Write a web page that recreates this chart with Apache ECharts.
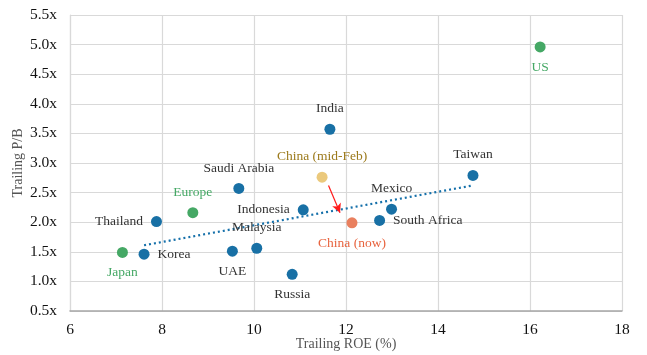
<!DOCTYPE html>
<html><head><meta charset="utf-8">
<script src="https://cdn.jsdelivr.net/npm/echarts@6/dist/echarts.min.js"></script>
<style>html,body{margin:0;padding:0;background:#fff}#c{width:647px;height:355px}</style>
</head><body><div id="c"></div>
<script>
// Data
const blueNames = ['India','Taiwan','Mexico','South Africa','Saudi Arabia','Thailand','Indonesia','Malaysia','Korea','UAE','Russia'];
const blueRoe   = [11.65, 14.76, 12.99, 12.73, 9.67, 7.88, 11.07, 10.06, 7.61, 9.53, 10.83];
const bluePb    = [3.57, 2.79, 2.22, 2.03, 2.57, 2.01, 2.21, 1.56, 1.46, 1.51, 1.12];

const greenNames = ['US','Europe','Japan'];
const greenRoe   = [16.22, 8.67, 7.14];
const greenPb    = [4.96, 2.16, 1.49];

const chinaFebName = ['China (mid-Feb)'];
const chinaFebRoe  = [11.48];
const chinaFebPb   = [2.76];

const chinaNowName = ['China (now)'];
const chinaNowRoe  = [12.13];
const chinaNowPb   = [1.99];

const trendRoe = [7.61, 14.75];
const trendPb  = [1.61, 2.62];

const arrowRoe = [11.62, 11.87];
const arrowPb  = [2.62, 2.16];

const xTicks = [6, 8, 10, 12, 14, 16, 18];
const yTicks = [0.5, 1.0, 1.5, 2.0, 2.5, 3.0, 3.5, 4.0, 4.5, 5.0, 5.5];

// Label placement (style, not data)
const labelPos = {
  'India':'top','Taiwan':'top','Mexico':'top','South Africa':'right','Saudi Arabia':'top',
  'Thailand':'left','Indonesia':'left','Malaysia':'top','Korea':'right','UAE':'bottom',
  'Russia':'bottom','US':'bottom','Europe':'top','Japan':'bottom',
  'China (mid-Feb)':'top','China (now)':'bottom'
};

const FONT = '"Liberation Serif", "DejaVu Serif", serif';

function pts(names, xs, ys){
  return names.map((n,i)=>({name:n, value:[xs[i], ys[i]], label:{position:labelPos[n]}}));
}

function scatter(name, names, xs, ys, color, labelColor){
  return {
    name, type:'scatter', symbolSize:11,
    itemStyle:{color, opacity:1},
    label:{show:true, formatter:'{b}', color:labelColor, fontFamily:FONT, fontSize:13.5, distance:8},
    data: pts(names, xs, ys),
    z:3
  };
}

const chart = echarts.init(document.getElementById('c'), null, {renderer:'canvas'});
chart.setOption({
  animation:false,
  backgroundColor:'#fff',
  grid:{left:70, right:25, top:15, bottom:44, containLabel:false, outerBoundsMode:'none'},
  xAxis:{
    type:'value', min:xTicks[0], max:xTicks[xTicks.length-1], interval:2,
    name:'Trailing ROE (%)', nameLocation:'middle', nameGap:26, nameMoveOverlap:false,
    nameTextStyle:{fontFamily:FONT, fontSize:14, color:'#555'},
    axisLine:{show:true, lineStyle:{color:'#a6a6a6', width:1.5}},
    axisTick:{show:false},
    axisLabel:{fontFamily:FONT, fontSize:15.5, color:'#111', margin:11},
    splitLine:{show:true, lineStyle:{color:'#d9d9d9', width:1.2}}
  },
  yAxis:{
    type:'value', min:yTicks[0], max:yTicks[yTicks.length-1], interval:0.5,
    name:'Trailing P/B', nameLocation:'middle', nameGap:45, nameMoveOverlap:false,
    nameTextStyle:{fontFamily:FONT, fontSize:14, color:'#555'},
    axisLine:{show:true, lineStyle:{color:'#d9d9d9', width:1.2}},
    axisTick:{show:false},
    axisLabel:{fontFamily:FONT, fontSize:15.5, color:'#111', margin:13,
      formatter:v=>v.toFixed(1)+'x'},
    splitLine:{show:true, lineStyle:{color:'#d9d9d9', width:1.2}}
  },
  series:[
    {
      type:'line', symbol:'none', silent:true,
      data: trendRoe.map((x,i)=>[x, trendPb[i]]),
      lineStyle:{color:'#1570aa', width:2.2, type:[2,3]},
      z:2,
      markLine:{
        silent:true, symbol:['none','arrow'], symbolSize:[7,9],
        label:{show:false},
        lineStyle:{color:'#ff1a1a', width:1.2, type:'solid'},
        data:[[{coord:[arrowRoe[0], arrowPb[0]]},{coord:[arrowRoe[1], arrowPb[1]]}]]
      }
    },
    scatter('blue', blueNames, blueRoe, bluePb, '#1870a5', '#333'),
    scatter('green', greenNames, greenRoe, greenPb, '#45a865', '#45a865'),
    scatter('chinaFeb', chinaFebName, chinaFebRoe, chinaFebPb, '#ebc97c', '#9c7a1c'),
    scatter('chinaNow', chinaNowName, chinaNowRoe, chinaNowPb, '#e9805f', '#e8643f')
  ]
});
</script>
</body></html>
